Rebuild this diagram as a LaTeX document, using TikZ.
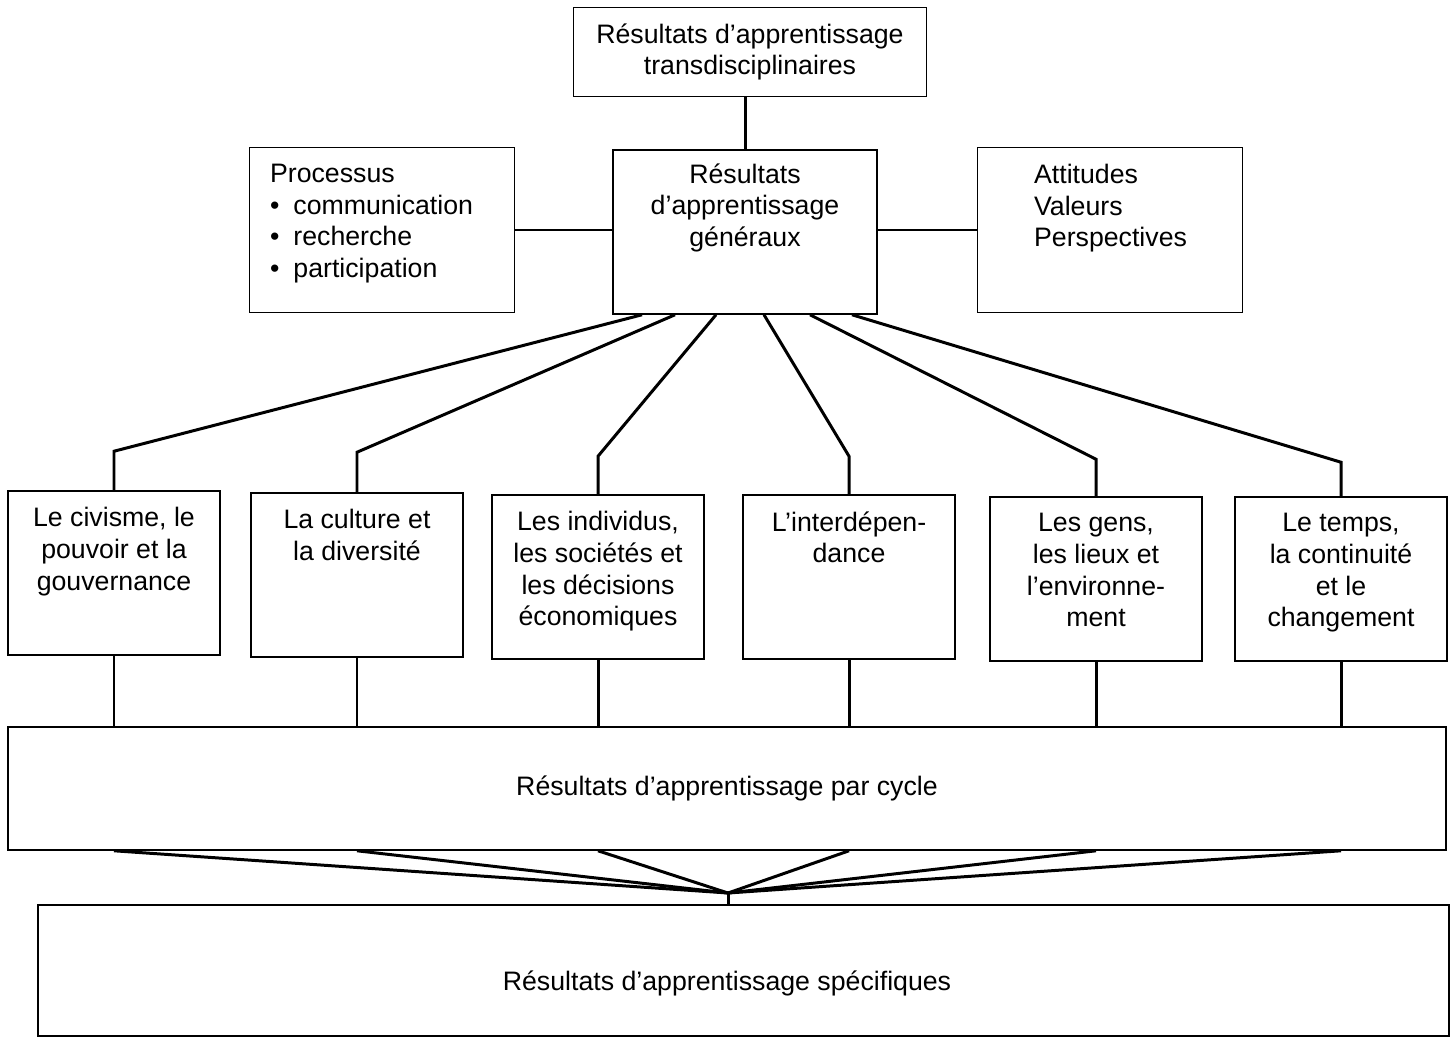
\documentclass[tikz,border=0pt]{standalone}
\usepackage{fontspec}
\setmainfont{Liberation Sans}
\usetikzlibrary{calc}
\tikzset{
  box/.style={draw, line width=0.9pt, inner sep=0pt},
  link/.style={line width=1.7pt},
  txt/.style={inner sep=0pt, align=center},
}

\begin{document}
\begin{tikzpicture}[x=0.02cm, y=-0.02cm, font=\fontsize{15.2}{18}\selectfont]
\useasboundingbox (0,0) rectangle (1452,1038);
% top levels
\node[box, txt, minimum width=7.06cm, minimum height=1.78cm] (trans) at (750,52) {Résultats d’apprentissage\\transdisciplinaires};
\node[box, minimum width=5.28cm, minimum height=3.28cm] (gen) at (745,232) {};
\node[box, minimum width=5.3cm, minimum height=3.3cm] (proc) at (382,230) {};
\node[box, minimum width=5.3cm, minimum height=3.3cm] (att) at (1110,230) {};
\node[txt, anchor=north] at ($(gen.north)+(0,14)$) {Résultats\\d’apprentissage\\généraux};
\node[txt, align=left, anchor=north west] at ($(proc.north west)+(21,17)$)
  {Processus\\\textbullet\hspace{0.28cm}communication\\\textbullet\hspace{0.28cm}recherche\\\textbullet\hspace{0.28cm}participation};
\node[txt, align=left, anchor=north west] at ($(att.north west)+(57,17)$) {Attitudes\\Valeurs\\Perspectives};
\draw[link] (gen.north |- trans.south) -- (gen.north);
\draw[link] (proc.east) -- (proc.east -| gen.west);
\draw[link] (att.west) -- (att.west -| gen.east);
% general outcomes
\node[box, minimum width=4.24cm, minimum height=3.28cm] (civ) at (114,573) {};
\node[box, minimum width=4.24cm, minimum height=3.28cm] (cul) at (357,575) {};
\node[box, minimum width=4.24cm, minimum height=3.28cm] (ind) at (598,577) {};
\node[box, minimum width=4.24cm, minimum height=3.28cm] (int) at (849,577) {};
\node[box, minimum width=4.24cm, minimum height=3.28cm] (env) at (1096,579) {};
\node[box, minimum width=4.24cm, minimum height=3.28cm] (tem) at (1341,579) {};
\node[txt, anchor=north] at ($(civ.north)+(0,17)$) {Le civisme, le\\pouvoir et la\\gouvernance};
\node[txt, anchor=north] at ($(cul.north)+(0,17)$) {La culture et\\la diversité};
\node[txt, anchor=north] at ($(ind.north)+(0,17)$) {Les individus,\\les sociétés et\\les décisions\\économiques};
\node[txt, anchor=north] at ($(int.north)+(0,17)$) {L’interdépen-\\dance};
\node[txt, anchor=north] at ($(env.north)+(0,17)$) {Les gens,\\les lieux et\\l’environne-\\ment};
\node[txt, anchor=north] at ($(tem.north)+(0,17)$) {Le temps,\\la continuité\\et le\\changement};
% cycle and specific outcomes
\node[box, minimum width=28.76cm, minimum height=2.46cm] (cyc) at (727,788.5) {Résultats d’apprentissage par cycle};
\node[box, minimum width=28.22cm, minimum height=2.62cm] (spec) at (743.5,970.5) {};
\node[txt] at (727,983) {Résultats d’apprentissage spécifiques};
\coordinate (hub) at (728,893);
% connectors
\foreach \t/\dx/\h in {civ/-103/39, cul/-70/40, ind/-29/38, int/19/38, env/65/37, tem/107/34}{
  \draw[link] ($(gen.south)+(\dx,0)$) -- ($(\t.north)+(0,-\h)$) -- (\t.north);
  \draw[link] (\t.south) -- (\t.south |- cyc.north);
  \draw[link] (\t.south |- cyc.south) -- (hub);
}
\draw[link] (hub) -- (hub |- spec.north);
\end{tikzpicture}
\end{document}
